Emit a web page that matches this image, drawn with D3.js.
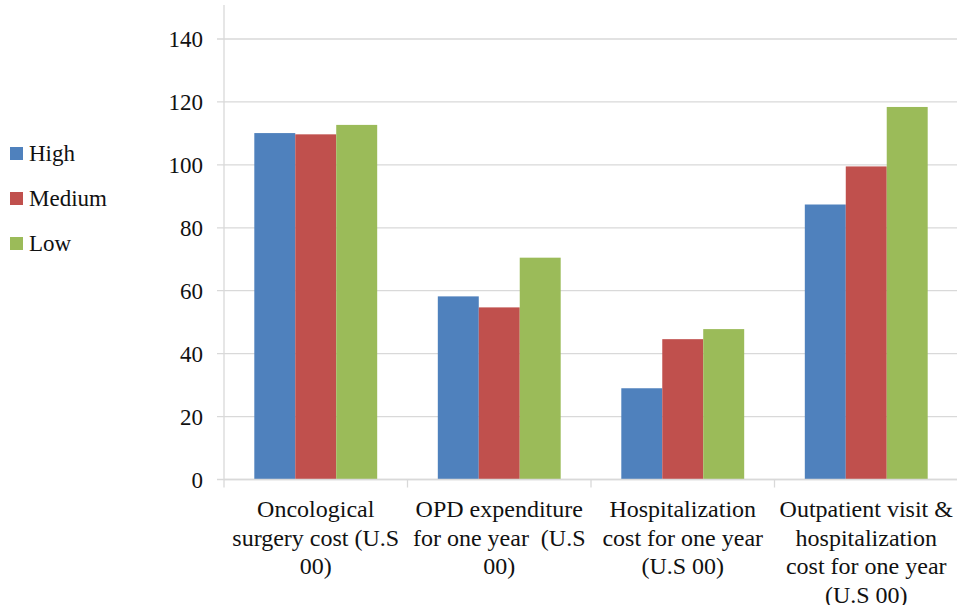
<!DOCTYPE html>
<html>
<head>
<meta charset="utf-8">
<script src="https://cdn.jsdelivr.net/npm/d3@7"></script>
</head>
<body style="margin:0">
<svg id="s" width="957" height="605" style="font-family: 'Liberation Serif', Tinos, 'Times New Roman'"></svg>
<script>
// data
const categories = ['surgery', 'opd', 'hosp', 'both'];
const categoryLines = [
  ['Oncological', 'surgery cost (U.S', '00)'],
  ['OPD expenditure', 'for one year \u00a0(U.S', '00)'],
  ['Hospitalization', 'cost for one year', '(U.S 00)'],
  ['Outpatient visit &', 'hospitalization', 'cost for one year', '(U.S 00)']
];
const seriesNames = ['High', 'Medium', 'Low'];
const seriesColors = ['#4f81bd', '#c0504d', '#9bbb59'];
const highValues = [110.1, 58.2, 29.0, 87.4];
const mediumValues = [109.7, 54.7, 44.6, 99.5];
const lowValues = [112.7, 70.5, 47.8, 118.4];
const yTicks = [0, 20, 40, 60, 80, 100, 120, 140];

const seriesValues = [highValues, mediumValues, lowValues];

const svg = d3.select('#s');
const plotLeft = 224, plotRight = 958, plotBottom = 479.5, plotTop = 39;

const x0 = d3.scaleBand().domain(categories).range([plotLeft, plotRight]).padding(0);
const x1 = d3.scaleBand().domain(seriesNames).range([0, x0.bandwidth()]).paddingInner(0).paddingOuter(0.74);
const y = d3.scaleLinear().domain([0, 140]).range([plotBottom, plotTop]);

// gridlines + y tick marks
svg.selectAll('line.grid')
  .data(yTicks)
  .join('line')
  .attr('class', 'grid')
  .attr('x1', plotLeft - 7)
  .attr('x2', plotRight)
  .attr('y1', d => y(d))
  .attr('y2', d => y(d))
  .attr('stroke', '#d9d9d9')
  .attr('stroke-width', 1.3);

// vertical axis line
svg.append('line')
  .attr('x1', plotLeft).attr('x2', plotLeft)
  .attr('y1', 5).attr('y2', plotBottom)
  .attr('stroke', '#d9d9d9').attr('stroke-width', 1.3);

// bars
const barData = categories.flatMap((c, i) =>
  seriesNames.map((s, j) => ({ c, s, j, v: seriesValues[j][i] })));

svg.selectAll('rect.bar')
  .data(barData)
  .join('rect')
  .attr('class', 'bar')
  .attr('x', d => x0(d.c) + x1(d.s))
  .attr('y', d => y(d.v))
  .attr('width', x1.bandwidth())
  .attr('height', d => y(0) - y(d.v))
  .attr('fill', d => seriesColors[d.j]);

// category axis
svg.append('line')
  .attr('x1', plotLeft).attr('x2', plotRight)
  .attr('y1', plotBottom).attr('y2', plotBottom)
  .attr('stroke', '#d9d9d9').attr('stroke-width', 1.3);

svg.selectAll('line.ctick')
  .data(categories)
  .join('line')
  .attr('class', 'ctick')
  .attr('x1', d => x0(d))
  .attr('x2', d => x0(d))
  .attr('y1', plotBottom)
  .attr('y2', plotBottom + 8)
  .attr('stroke', '#d9d9d9').attr('stroke-width', 1.3);

// all texts
const texts = [];
yTicks.forEach(t => texts.push({ t: String(t), x: 203, y: y(t) + 8, a: 'end', fs: 23 }));
categories.forEach((c, i) => categoryLines[i].forEach((t, k) =>
  texts.push({ t, x: x0(c) + x0.bandwidth() / 2, y: 517 + k * 28.6, a: 'middle', fs: 24 })));
seriesNames.forEach((s, i) => texts.push({ t: s, x: 29, y: 161 + i * 45, a: 'start', fs: 23 }));

svg.selectAll('text')
  .data(texts)
  .join('text')
  .attr('x', d => d.x)
  .attr('y', d => d.y)
  .attr('text-anchor', d => d.a)
  .style('font-size', d => d.fs + 'px')
  .style('font-family', "'Liberation Serif', Tinos, 'Times New Roman'")
  .attr('fill', '#111')
  .text(d => d.t);

// legend swatches
svg.selectAll('rect.swatch')
  .data(seriesNames)
  .join('rect')
  .attr('class', 'swatch')
  .attr('x', 10)
  .attr('y', (d, i) => 147 + i * 45)
  .attr('width', 13).attr('height', 13)
  .attr('fill', (d, i) => seriesColors[i]);
</script>
</body>
</html>
